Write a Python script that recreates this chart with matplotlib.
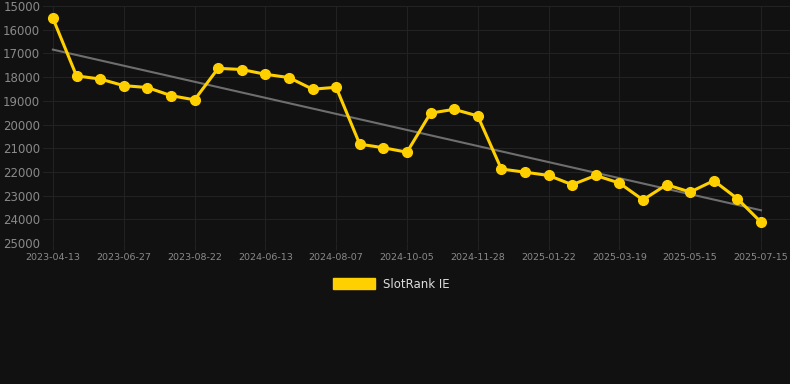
import numpy as np
import matplotlib.pyplot as plt
from matplotlib.patches import Patch

# rank values (lower is better, axis inverted)
ranks = [15520, 17950, 18080, 18360, 18440, 18780, 18960, 17630, 17680, 17880,
         18020, 18510, 18430, 20830, 20980, 21170, 19520, 19360, 19640, 21880,
         22010, 22150, 22540, 22150, 22470, 23180, 22540, 22850, 22370, 23130,
         24120]
tick_labels = ['2023-04-13', '2023-06-27', '2023-08-22', '2024-06-13', '2024-08-07',
               '2024-10-05', '2024-11-28', '2025-01-22', '2025-03-19', '2025-05-15',
               '2025-07-15']
y_ticks = list(range(15000, 25001, 1000))

bg = '#111111'
yellow = '#ffd000'

x = np.arange(len(ranks))
slope, intercept = np.polyfit(x, ranks, 1)

fig = plt.figure(figsize=(7.9, 3.84), dpi=100, facecolor=bg)
ax = fig.add_axes([43/790, 1 - 243/384, 1 - 43/790, (243 - 6)/384])
ax.set_facecolor(bg)

ax.plot(x, slope * x + intercept, color='#6e6e6e', lw=1.5, zorder=2)
ax.plot(x, ranks, color=yellow, lw=2.2, marker='o', ms=7, zorder=3)

ax.set_ylim(25000, 15000)
ax.set_xlim(-0.42, 31.23)
ax.set_yticks(y_ticks)
ax.set_xticks(x[::3])
ax.set_xticklabels(tick_labels)
ax.grid(True, color='#222222', lw=0.8)
for s in ax.spines.values():
    s.set_visible(False)
ax.tick_params(axis='y', length=0, labelsize=8.5, labelcolor='#8a8a8a', pad=2)
ax.tick_params(axis='x', length=5, color='#222222', labelsize=6.8,
               labelcolor='#8a8a8a', pad=2)

fig.legend(handles=[Patch(color=yellow, label='SlotRank IE')], loc='center',
           bbox_to_anchor=(0.495, 1 - 284/384), frameon=False, fontsize=8.5,
           labelcolor='#dddddd', handlelength=3.6, handleheight=1.0,
           handletextpad=0.6)

fig.savefig('out.png', dpi=100, facecolor=bg)
